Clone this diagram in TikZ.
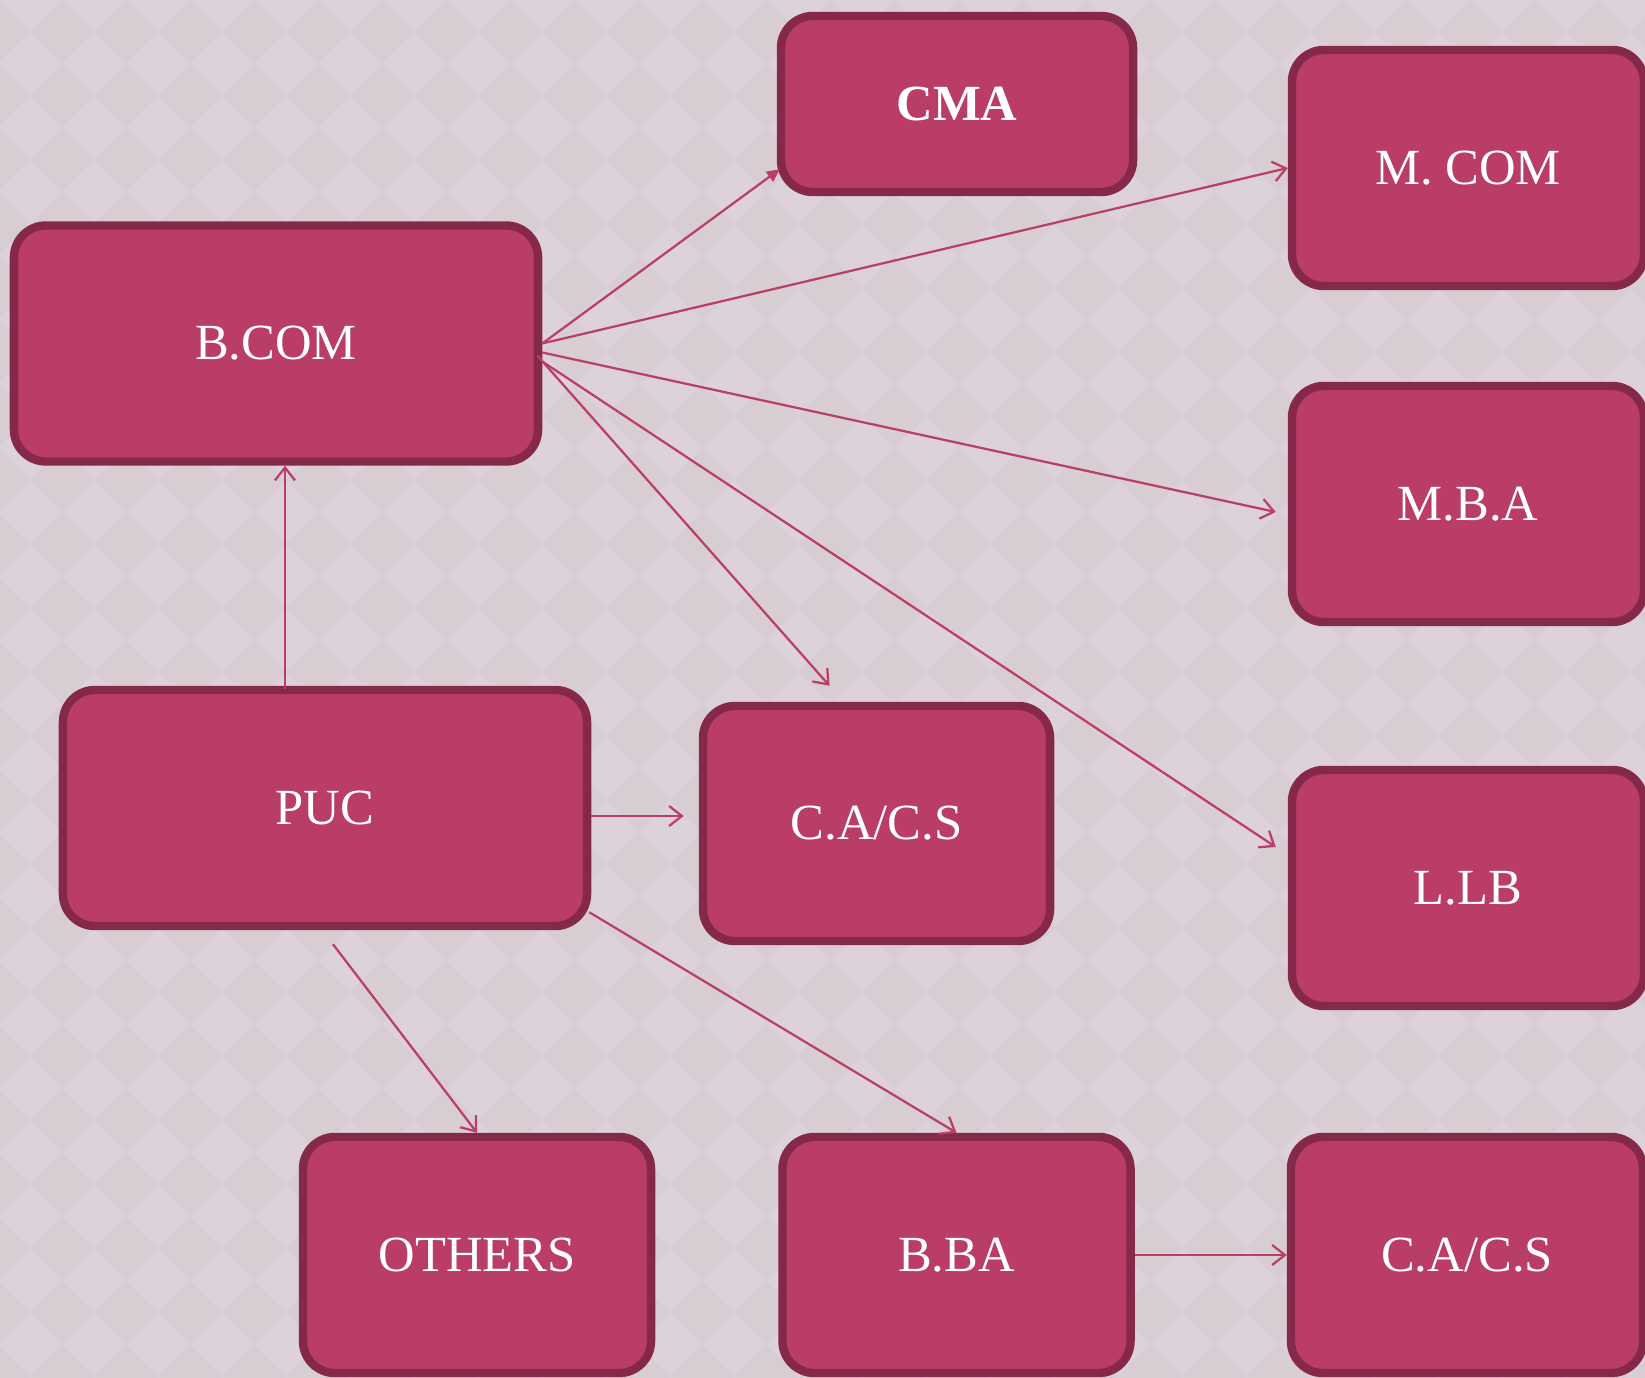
\documentclass[tikz,border=0pt]{standalone}
\usepackage{fontspec}
\setmainfont{Liberation Serif}
\usetikzlibrary{arrows.meta,calc}
\definecolor{bglight}{HTML}{DDD2D9}
\definecolor{bgdark}{HTML}{D9CDD4}
\definecolor{boxfill}{HTML}{B93D67}
\definecolor{boxline}{HTML}{86284A}
\definecolor{edgecol}{HTML}{BB3E6A}
\tikzset{
  box/.style={draw=boxline, fill=boxfill, line width=0.21cm, rounded corners=0.8cm,
    text=white, font=\fontsize{36}{42}\selectfont, align=center, inner sep=0pt},
  widebox/.style={box, minimum width=13.1cm, minimum height=5.9cm},
  smallbox/.style={box, minimum width=8.8cm, minimum height=5.9cm},
  conn/.style={draw=edgecol, line width=1.6pt, -{Straight Barb[length=0.32cm,width=0.5cm,line width=1.6pt]}},
  connfilled/.style={draw=edgecol, line width=1.6pt, -{Triangle[length=0.32cm,width=0.3cm]}}
}
\begin{document}
\begin{tikzpicture}[x=0.025cm,y=-0.025cm]
\useasboundingbox (0,0) rectangle (1645,1378);
% background
\begin{scope}
\clip (0,0) rectangle (1645,1378);
\fill[bglight] (0,0) rectangle (1645,1378);
\foreach \x in {-2,62,...,1700}{
  \foreach \y in {-32,32,...,1420}{
    \fill[bgdark] (\x-32,\y) -- (\x,\y-32) -- (\x+32,\y) -- (\x,\y+32) -- cycle;
  }
}
\end{scope}
% nodes
\node[box, minimum width=8.8cm, minimum height=4.4cm, font=\fontsize{36}{42}\selectfont\bfseries] (cma) at (957,104) {CMA};
\node[smallbox] (mcom) at (1468,168) {M. COM};
\node[smallbox] (mba) at (1468,504) {M.B.A};
\node[smallbox] (llb) at (1468,888) {L.LB};
\node[smallbox] (cacs2) at (1467,1255) {C.A/C.S};
\node[widebox] (bcom) at (276,343.5) {B.COM};
\node[widebox] (puc) at (325,808) {PUC};
\node[smallbox, minimum width=8.675cm, minimum height=5.875cm] (cacs1) at (876.5,823.5) {C.A/C.S};
\node[smallbox, minimum width=8.7cm, minimum height=5.9cm] (others) at (477,1255) {OTHERS};
\node[smallbox, minimum width=8.7cm, minimum height=5.9cm] (bba) at (956.5,1255) {B.BA};
% connectors
\draw[connfilled] (bcom.east) -- ($(cma.south west)+(3,-27)$);
\draw[conn] (bcom.east) -- (mcom.west);
\draw[conn] ($(bcom.east)+(0,9)$) -- ($(mba.west)+(-12,8)$);
\draw[conn] ($(bcom.east)+(-5,12)$) -- ($(cacs1.north)+(-47,-16)$);
\draw[conn] ($(bcom.east)+(0,18)$) -- ($(llb.west)+(-12,-41)$);
\draw[conn] ($(puc.north)+(-40,3)$) coordinate (p1) -- (p1 |- bcom.south);
\draw[conn] ($(puc.east)+(0,8)$) coordinate (p2) -- ($(p2 -| cacs1.west)+(-15,0)$);
\draw[conn] ($(puc.south)+(8,14)$) -- (others.north);
\draw[conn] ($(puc.south east)+(-2,-18)$) -- (bba.north);
\draw[conn] (bba.east) -- (cacs2.west);
\end{tikzpicture}
\end{document}
